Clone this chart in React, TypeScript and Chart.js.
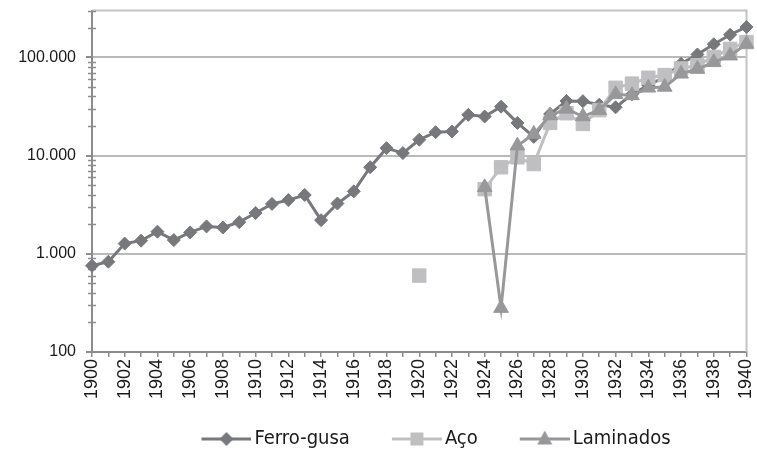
import React, { useEffect, useRef } from 'react';
import { Chart, registerables } from 'chart.js';

Chart.register(...registerables);

// ---- Data ----
const years = [
  '1900', '1901', '1902', '1903', '1904', '1905', '1906', '1907', '1908', '1909',
  '1910', '1911', '1912', '1913', '1914', '1915', '1916', '1917', '1918', '1919',
  '1920', '1921', '1922', '1923', '1924', '1925', '1926', '1927', '1928', '1929',
  '1930', '1931', '1932', '1933', '1934', '1935', '1936', '1937', '1938', '1939',
  '1940',
];

const ferroGusa = [
  755, 830, 1270, 1360, 1680, 1380, 1650, 1900, 1850, 2100,
  2600, 3220, 3520, 3970, 2200, 3250, 4320, 7600, 11900, 10600,
  14500, 17300, 17600, 26000, 25000, 31500, 21500, 15500, 26500, 36000,
  35800, 33000, 31000, 42000, 52000, 63000, 86000, 107000, 136000, 170000,
  204000,
];

const aco = [
  null, null, null, null, null, null, null, null, null, null,
  null, null, null, null, null, null, null, null, null, null,
  600, null, null, null, 4550, 7600, 9600, 8200, 21500, 27000,
  21000, 29000, 49000, 54000, 62000, 66000, 77000, 83000, 101000, 122000,
  143000,
];

const laminados = [
  null, null, null, null, null, null, null, null, null, null,
  null, null, null, null, null, null, null, null, null, null,
  null, null, null, null, 4750, 280, 12600, 16600, 25600, 29900,
  25000, 29000, 42000, 41000, 49000, 50000, 68000, 76000, 89000, 104000,
  137000,
];

const seriesNames = ['Ferro-gusa', 'Aço', 'Laminados'];
const yTickValues = [100, 1000, 10000, 100000];
const yMin = 100;
const yMax = 300000;

// ---- Styles ----
const colors = ['#77787b', '#bfbfc1', '#98989b'];
const markerKinds = ['diamond', 'square', 'triangle'];
const Y_TICK_FONT = { family: "'Liberation Sans', Arial, sans-serif", size: 16 };
const X_TICK_FONT = { family: "'Liberation Sans', Arial, sans-serif", size: 18 };
const LEGEND_FONT = { family: "'DejaVu Sans Condensed', 'Liberation Sans Narrow', sans-serif", size: 20 };
const LEGEND_BOX = 75;

function formatThousands(v: number): string {
  const s = String(Math.round(v));
  return s.replace(/\B(?=(\d{3})+(?!\d))/g, '.');
}

function makeLegendImage(color: string, kind: string): HTMLCanvasElement {
  const W = LEGEND_BOX + 14;
  const H = 22;
  const c = document.createElement('canvas');
  c.width = W;
  c.height = H;
  const g = c.getContext('2d')!;
  const x1 = W - 50;
  const x2 = W;
  const cy = H / 2;
  g.strokeStyle = color;
  g.lineWidth = 3;
  g.beginPath();
  g.moveTo(x1, cy);
  g.lineTo(x2, cy);
  g.stroke();
  const cx = (x1 + x2) / 2;
  g.fillStyle = color;
  g.beginPath();
  if (kind === 'diamond') {
    g.moveTo(cx, cy - 7);
    g.lineTo(cx + 7, cy);
    g.lineTo(cx, cy + 7);
    g.lineTo(cx - 7, cy);
  } else if (kind === 'square') {
    g.rect(cx - 6.5, cy - 6.5, 13, 13);
  } else {
    g.moveTo(cx, cy - 8.5);
    g.lineTo(cx + 7.5, cy + 5.5);
    g.lineTo(cx - 7.5, cy + 5.5);
  }
  g.closePath();
  g.fill();
  return c;
}

const framePlugin = {
  id: 'frameAndMinorTicks',
  beforeDatasetsDraw(chart: any) {
    const { ctx, chartArea: a, scales } = chart;
    ctx.save();
    ctx.strokeStyle = '#c4c4c4';
    ctx.lineWidth = 2;
    ctx.beginPath();
    ctx.moveTo(a.left, a.top);
    ctx.lineTo(a.right, a.top);
    ctx.lineTo(a.right, a.bottom);
    ctx.stroke();
    const y = scales.y;
    ctx.strokeStyle = '#8c8c8c';
    ctx.lineWidth = 1.5;
    for (const d of yTickValues) {
      for (let m = 2; m <= 9; m++) {
        const v = d * m;
        if (v > y.max) continue;
        const py = Math.round(y.getPixelForValue(v)) + 0.5;
        ctx.beginPath();
        ctx.moveTo(a.left - 4, py);
        ctx.lineTo(a.left + 4, py);
        ctx.stroke();
      }
    }
    ctx.restore();
  },
  afterLayout(chart: any) {
    const lg = chart.legend;
    if (lg) {
      lg.left += 46;
      lg.right += 46;
    }
  },
};

export default function App() {
  const ref = useRef<HTMLCanvasElement | null>(null);

  useEffect(() => {
    if (!ref.current) return;
    const legendImages = colors.map((c, i) => makeLegendImage(c, markerKinds[i]));

    const chart = new Chart(ref.current, {
      type: 'line',
      data: {
        labels: years,
        datasets: [
          {
            label: seriesNames[0],
            data: ferroGusa,
            borderColor: colors[0],
            backgroundColor: colors[0],
            borderWidth: 3,
            pointStyle: 'rectRot',
            pointRadius: 6.5,
            pointBorderWidth: 1,
            pointBackgroundColor: colors[0],
            pointBorderColor: colors[0],
            order: 3,
            clip: false,
          },
          {
            label: seriesNames[1],
            data: aco,
            borderColor: colors[1],
            backgroundColor: colors[1],
            borderWidth: 3,
            pointStyle: 'rect',
            pointRadius: 9.5,
            pointBorderWidth: 1,
            pointBackgroundColor: colors[1],
            pointBorderColor: colors[1],
            order: 2,
            clip: false,
          },
          {
            label: seriesNames[2],
            data: laminados,
            borderColor: colors[2],
            backgroundColor: colors[2],
            borderWidth: 3,
            pointStyle: 'triangle',
            pointRadius: 8.5,
            pointBorderWidth: 1,
            pointBackgroundColor: colors[2],
            pointBorderColor: colors[2],
            order: 1,
            clip: false,
          },
        ],
      },
      options: {
        responsive: false,
        animation: false,
        events: [],
        layout: { padding: { left: 0, right: 9, top: 9, bottom: 1 } },
        elements: { line: { tension: 0 } },
        scales: {
          x: {
            type: 'category',
            offset: false,
            grid: {
              drawOnChartArea: false,
              drawTicks: true,
              tickLength: 5,
              color: '#8c8c8c',
              lineWidth: 1.5,
              offset: false,
            },
            border: { display: true, color: '#8c8c8c', width: 2 },
            ticks: {
              autoSkip: false,
              minRotation: 90,
              maxRotation: 90,
              padding: 2,
              color: '#1a1a1a',
              font: X_TICK_FONT,
              callback: (_v: any, i: number) => (i % 2 === 0 ? years[i] : ''),
            },
            afterFit: (s: any) => {
              s.height = 67;
              s.paddingLeft = 0;
              s.paddingRight = 0;
            },
          },
          y: {
            type: 'logarithmic',
            min: yMin,
            max: yMax,
            grid: {
              color: '#b9b9b9',
              lineWidth: 2,
              drawTicks: true,
              tickLength: 6,
              tickColor: '#8c8c8c',
            },
            border: { display: true, color: '#8c8c8c', width: 2 },
            afterBuildTicks: (s: any) => {
              s.ticks = yTickValues.map((v) => ({ value: v, major: true }));
            },
            ticks: {
              autoSkip: false,
              padding: 10,
              color: '#1a1a1a',
              font: Y_TICK_FONT,
              callback: (v: any) => formatThousands(Number(v)),
            },
            afterFit: (s: any) => {
              s.width = 92;
              s.paddingTop = 0;
              s.paddingBottom = 0;
            },
          },
        },
        plugins: {
          tooltip: { enabled: false },
          legend: {
            display: true,
            position: 'bottom',
            align: 'center',
            labels: {
              usePointStyle: true,
              pointStyleWidth: LEGEND_BOX,
              padding: 10,
              color: '#1a1a1a',
              font: LEGEND_FONT,
              generateLabels: () =>
                seriesNames.map((name, i) => ({
                  text: name,
                  pointStyle: legendImages[i],
                  fillStyle: colors[i],
                  strokeStyle: colors[i],
                  lineWidth: 0,
                  hidden: false,
                  datasetIndex: i,
                  fontColor: '#1a1a1a',
                })),
            },
          },
        },
      },
      plugins: [framePlugin],
    } as any);

    return () => chart.destroy();
  }, []);

  return (
    <div style={{ position: 'absolute', left: 0, top: 0, width: 757, height: 460, background: '#fff' }}>
      <canvas ref={ref} width={757} height={460} style={{ width: 757, height: 460, display: 'block' }} />
    </div>
  );
}
